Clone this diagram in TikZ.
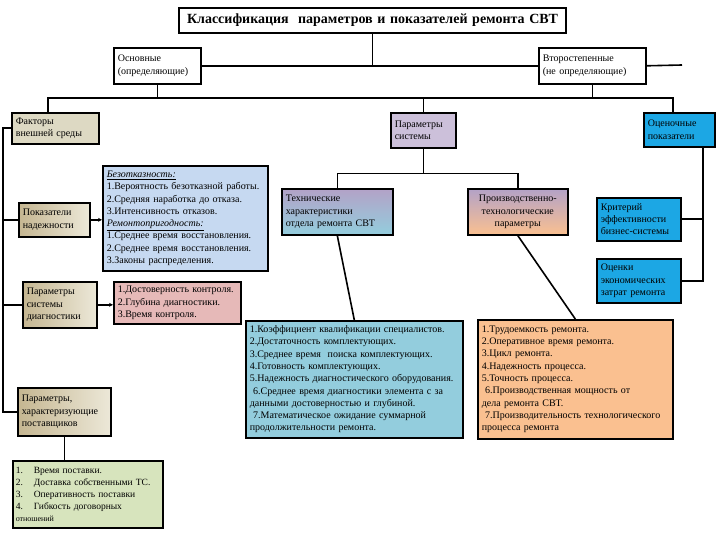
\documentclass[tikz,border=0pt]{standalone}
\usepackage{fontspec}
\setmainfont{Liberation Serif}
\usetikzlibrary{arrows.meta, positioning, calc}
\definecolor{khaki}{HTML}{DDD9C3}
\definecolor{tanL}{HTML}{C5B691}
\definecolor{tanR}{HTML}{ECE8D8}
\definecolor{lav}{HTML}{CCC0DA}
\definecolor{lavD}{HTML}{B3A2C7}
\definecolor{sky}{HTML}{1CA7E4}
\definecolor{pale}{HTML}{C6D9F1}
\definecolor{rose}{HTML}{E6B9B8}
\definecolor{teal}{HTML}{93CDDD}
\definecolor{peach}{HTML}{FAC090}
\definecolor{sage}{HTML}{D7E4BD}

\begin{document}
\begin{tikzpicture}[x=1pt,y=-1pt,
  bx/.style={draw,line width=1.6pt,anchor=north west,inner xsep=4pt,inner ysep=2pt,font=\fontsize{10}{12.3}\selectfont,align=left},
  grad/.style={left color=tanL,right color=tanR},
  ln/.style={line width=1.6pt},
  tip/.style={-{Stealth[length=4pt,width=4pt]},line width=1.6pt}
]
  \useasboundingbox (0,0) rectangle (720,540);

  \node[bx,text width=379pt,minimum height=25pt,align=center,line width=2pt,font=\bfseries\fontsize{14}{16}\selectfont] (T) at (178,7) {Классификация\ \ параметров и показателей ремонта СВТ};
  \node[bx,text width=79pt,minimum height=36pt] (O1) at (113,47) {Основные\\(определяющие)};
  \node[bx,text width=99pt,minimum height=36pt] (O2) at (538,47) {Второстепенные\\(не определяющие)};

  \node[bx,fill=khaki,text width=79pt,minimum height=31pt] (F) at (11,112) {Факторы\\внешней среды};
  \node[bx,fill=lav,text width=57pt,minimum height=35pt] (S) at (390,112) {Параметры\\системы};
  \node[bx,fill=sky,text width=63pt,minimum height=34pt] (E) at (643,112) {Оценочные\\показатели};

  \node[bx,grad,text width=63pt,minimum height=34pt] (N) at (18,202) {Показатели\\надежности};
  \node[bx,fill=pale,text width=157pt,minimum height=105pt] (NL) at (102,165) {\underline{\textit{Безотказность:}}\\1.Вероятность безотказной работы.\\2.Средняя наработка до отказа.\\3.Интенсивность отказов.\\\underline{\textit{Ремонтопригодность:}}\\1.Среднее время восстановления.\\2.Среднее время восстановления.\\3.Законы распределения.};

  \node[bx,top color=lavD,bottom color=teal,text width=103pt,minimum height=46pt] (TH) at (281,188) {Технические\\характеристики\\отдела ремонта СВТ};
  \node[bx,top color=lavD,bottom color=peach,text width=92pt,minimum height=46pt,align=center] (PR) at (467,188) {Производственно-\\технологические\\параметры};
  \node[bx,fill=sky,text width=76pt,minimum height=43pt] (K) at (596,197) {Критерий\\эффективности\\бизнес-системы};
  \node[bx,fill=sky,text width=76pt,minimum height=44pt] (Z) at (596,258) {Оценки\\экономических\\затрат ремонта};

  \node[bx,grad,text width=66pt,minimum height=46pt] (D) at (22,281) {Параметры\\системы\\диагностики};
  \node[bx,fill=rose,text width=119pt,minimum height=42pt] (DL) at (113,281) {1.Достоверность контроля.\\2.Глубина диагностики.\\3.Время контроля.};

  \node[bx,grad,text width=85pt,minimum height=48pt] (P) at (17,387) {Параметры,\\характеризующие\\поставщиков};
  \node[bx,fill=sage,text width=144pt,minimum height=67pt,inner xsep=3pt,font=\fontsize{9.5}{12}\selectfont] (PL) at (12,460) {\makebox[18pt][l]{1.}Время поставки.\\\makebox[18pt][l]{2.}Доставка собственными ТС.\\\makebox[18pt][l]{3.}Оперативность поставки\\\makebox[18pt][l]{4.}Гибкость договорных\\{\fontsize{8}{10}\selectfont отношений}};

  \node[bx,fill=teal,text width=209pt,minimum height=117pt] (THL) at (245,320) {1.Коэффициент квалификации специалистов.\\2.Достаточность комплектующих.\\3.Среднее время\ \ поиска комплектующих.\\4.Готовность комплектующих.\\5.Надежность диагностического оборудования.\\\ 6.Среднее время диагностики элемента с за\\данными достоверностью и глубиной.\\\ 7.Математическое ожидание суммарной\\продолжительности ремонта.};
  \node[bx,fill=peach,text width=187pt,minimum height=119pt] (PRL) at (477,319) {1.Трудоемкость ремонта.\\2.Оперативное время ремонта.\\3.Цикл ремонта.\\4.Надежность процесса.\\5.Точность процесса.\\\ 6.Производственная мощность от\\дела ремонта СВТ.\\\ 7.Производительность технологического\\процесса ремонта};

  \coordinate (busL) at (48,98);
  \coordinate (busR) at (673,98);
  \coordinate (stub) at (682,65);
  \coordinate (ocR) at (703,278);
  \coordinate (spL) at (3,0);

  \draw[ln] (T.south) -- (T.south |- O1.east);
  \draw[ln] (O1.east) -- (O2.west);
  \draw[ln] (O2.east) -- (stub);
  \draw[ln] (F.north -| busL) -- (busL) -- (busR) -- (busR |- E.north);
  \draw[ln] (O1.south) -- (O1.south |- busL);
  \draw[ln] (O2.south) -- (O2.south |- busL);
  \draw[ln] (S.north) -- (S.north |- busL);
  \draw[ln] (S.south) -- ++(0,25) coordinate (sbus);
  \draw[ln] (TH.north) |- (sbus) -| (PR.north);
  \draw[ln] (TH.south) -- (THL.north);
  \draw[ln] (PR.south) -- (PRL.north);
  \draw[ln] (E.south -| ocR) -- (ocR |- Z.east) -- (Z.east);
  \draw[ln] (K.east) -- (K.east -| ocR);
  \draw[ln] (F.west) -- (F.west -| spL) -- (spL |- P.west) -- (P.west);
  \draw[ln] (N.west -| spL) -- (N.west);
  \draw[ln] (D.west -| spL) -- (D.west);
  \draw[tip] (N.east) -- (N.east -| NL.west);
  \draw[tip] (D.east) -- (D.east -| DL.west);
  \draw[ln] (P.south) -- (P.south |- PL.north);
\end{tikzpicture}
\end{document}
